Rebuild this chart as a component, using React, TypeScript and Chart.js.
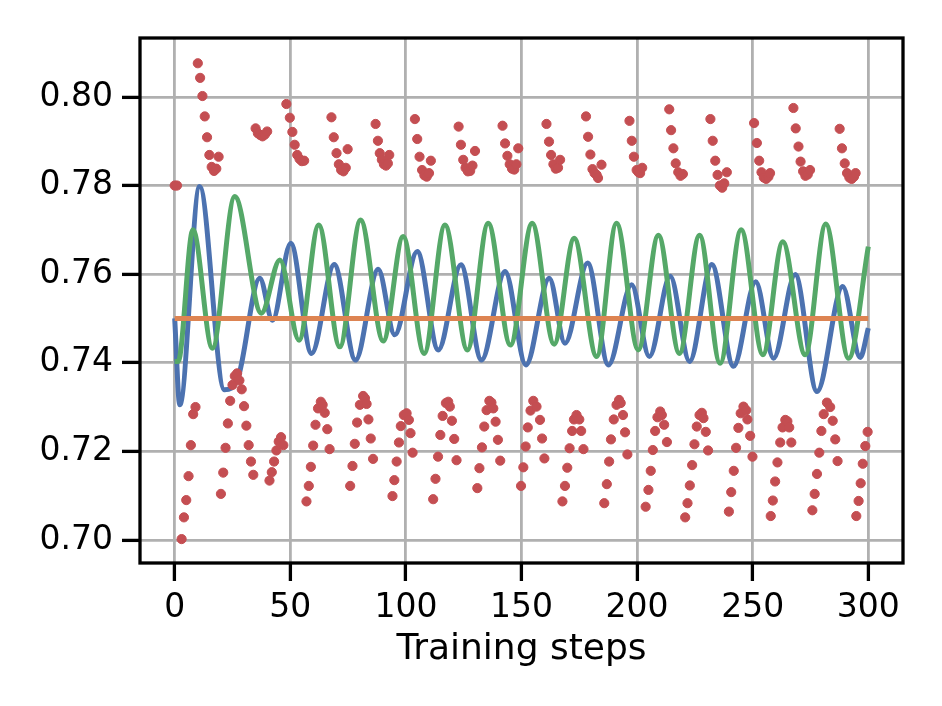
import React, { useEffect, useRef } from 'react';
import Chart from 'chart.js/auto';

// x ticks / y ticks of the axes
const X_TICKS = [0, 50, 100, 150, 200, 250, 300];
const Y_TICKS = [0.70, 0.72, 0.74, 0.76, 0.78, 0.80];

// red scatter: observed steps
const RED_X = [
  0, 1, 3, 4, 5, 6, 7, 8, 9,
  10, 11, 12, 13, 14, 15, 16, 17, 18, 19,
  20, 21, 22, 23, 24, 25, 26, 27, 28, 29, 30, 31, 32, 33, 34,
  35, 36, 37, 38, 39, 40,
  41, 42, 43, 44, 45, 46, 47,
  48.3, 49.8, 50.9, 51.9, 53, 54, 55, 56,
  57, 58, 58.9, 59.9, 60.9, 62, 63.2, 64, 64.9, 66, 67,
  67.8, 68.8, 70, 71, 72, 73, 74, 74.8,
  75.9, 76.9, 77.9, 78.9, 80.1, 81.5, 82.3, 83, 83.8, 84.8, 85.8,
  86.9, 87.9, 88.7, 89.6, 90.5, 91.4, 92.2, 92.8,
  94.2, 95, 96, 97, 97.8, 99.1, 100.3, 101.3, 102, 102.9,
  103.9, 104.9, 105.9, 107, 108, 109, 110, 110.8,
  111.8, 112.8, 113.9, 114.9, 115.9, 117.3, 118.3, 119, 119.9, 120.9, 121.9,
  122.8, 123.8, 124.8, 125.8, 126.8, 127.8, 128.8, 129.9,
  130.9, 131.8, 132.9, 133.9, 134.9, 136.1, 137, 137.8, 138.8, 139.8, 140.8,
  141.8, 142.9, 143.9, 144.9, 145.9, 146.9, 147.8, 148.6,
  149.8, 150.8, 151.8, 152.7, 153.9, 155.1, 156.5, 158, 158.9, 159.9,
  160.8, 161.9, 162.8, 163.8, 164.8, 165.8, 166.7,
  167.7, 168.8, 169.8, 170.8, 171.9, 172.7, 173.8, 175, 175.8, 176.8,
  177.9, 178.8, 179.8, 180.7, 181.6, 182.5, 183.1, 184.6,
  185.8, 186.9, 187.9, 188.7, 189.9, 191.1, 192.2, 192.9, 193.9, 194.8, 195.8,
  196.7, 197.7, 198.6, 199.8, 200.6, 201.3, 202.2,
  203.7, 204.9, 205.9, 206.8, 207.8, 208.8, 210, 210.7, 211.7, 212.9,
  213.9, 214.7, 215.7, 216.7, 217.8, 218.8, 219.8,
  220.8, 221.8, 222.8, 223.8, 224.8, 225.8, 227, 228, 228.7, 229.7, 230.7,
  231.7, 232.7, 233.8, 234.8, 235.8, 236.8, 237.7, 238.8,
  239.7, 240.7, 241.8, 242.8, 243.8, 244.8, 246, 247.2, 247.7, 248.9, 249.9,
  250.6, 251.8, 252.8, 253.8, 254.8, 255.8, 256.8, 257.5,
  257.8, 258.7, 259.7, 260.7, 261.9, 262.9, 264.1, 265, 265.8, 266.7,
  267.6, 268.6, 269.8, 270.7, 271.8, 272.8, 273.8, 274.8,
  275.8, 276.8, 277.8, 278.8, 279.7, 280.7, 282.1, 283.5, 284.6, 285.7, 286.7,
  287.6, 288.6, 289.8, 290.8, 291.8, 292.8, 293.8, 294.5,
  294.8, 295.8, 296.7, 297.6, 298.7, 299.7,
];
const RED_Y = [
  0.780, 0.780, 0.7002, 0.7051, 0.7090, 0.7144, 0.7214, 0.7284, 0.7300,
  0.8076, 0.8043, 0.8002, 0.7956, 0.7909, 0.7869, 0.7842, 0.7833, 0.7838, 0.7865,
  0.7104, 0.7152, 0.7208, 0.7263, 0.7314, 0.7350, 0.7370, 0.7376, 0.7360, 0.7340, 0.7302, 0.7258, 0.7214, 0.7177, 0.7147,
  0.7929, 0.7918, 0.7914, 0.7911, 0.7915, 0.7922,
  0.7134, 0.7153, 0.7177, 0.7202, 0.7222, 0.7232, 0.7214,
  0.7984, 0.7953, 0.7921, 0.7892, 0.7869, 0.7860, 0.7855, 0.7856,
  0.7087, 0.7122, 0.7165, 0.7213, 0.7260, 0.7297, 0.7312, 0.7305, 0.7287, 0.7250, 0.7205,
  0.7954, 0.7909, 0.7873, 0.7848, 0.7835, 0.7832, 0.7840, 0.7882,
  0.7122, 0.7167, 0.7217, 0.7265, 0.7305, 0.7325, 0.7320, 0.7307, 0.7272, 0.7229, 0.7183,
  0.7939, 0.7901, 0.7873, 0.7858, 0.7848, 0.7845, 0.7850, 0.7869,
  0.7099, 0.7135, 0.7177, 0.7220, 0.7257, 0.7282, 0.7286, 0.7271, 0.7241, 0.7197,
  0.7950, 0.7905, 0.7865, 0.7835, 0.7823, 0.7820, 0.7828, 0.7856,
  0.7092, 0.7138, 0.7188, 0.7237, 0.7280, 0.7309, 0.7312, 0.7301, 0.7269, 0.7228, 0.7180,
  0.7933, 0.7892, 0.7858, 0.7840, 0.7832, 0.7833, 0.7845, 0.7878,
  0.7117, 0.7162, 0.7209, 0.7256, 0.7293, 0.7314, 0.7310, 0.7297, 0.7267, 0.7226, 0.7179,
  0.7935, 0.7895, 0.7867, 0.7848, 0.7838, 0.7836, 0.7848, 0.7884,
  0.7122, 0.7164, 0.7211, 0.7254, 0.7292, 0.7314, 0.7301, 0.7271, 0.7229, 0.7184,
  0.7939, 0.7899, 0.7869, 0.7848, 0.7838, 0.7840, 0.7858,
  0.7087, 0.7122, 0.7163, 0.7207, 0.7246, 0.7272, 0.7282, 0.7272, 0.7246, 0.7205,
  0.7956, 0.7910, 0.7870, 0.7837, 0.7828, 0.7824, 0.7817, 0.7847,
  0.7083, 0.7126, 0.7177, 0.7227, 0.7272, 0.7305, 0.7316, 0.7309, 0.7282, 0.7243, 0.7193,
  0.7946, 0.7901, 0.7865, 0.7835, 0.7830, 0.7828, 0.7840,
  0.7075, 0.7113, 0.7156, 0.7203, 0.7246, 0.7277, 0.7290, 0.7282, 0.7260, 0.7221,
  0.7972, 0.7925, 0.7884, 0.7850, 0.7830, 0.7822, 0.7826,
  0.7051, 0.7083, 0.7123, 0.7169, 0.7216, 0.7256, 0.7282, 0.7287, 0.7275, 0.7244, 0.7202,
  0.7950, 0.7901, 0.7856, 0.7824, 0.7800, 0.7795, 0.7805, 0.7830,
  0.7064, 0.7108, 0.7156, 0.7208, 0.7253, 0.7286, 0.7301, 0.7293, 0.7272, 0.7235, 0.7188,
  0.7941, 0.7896, 0.7856, 0.7830, 0.7818, 0.7815, 0.7820, 0.7828,
  0.7054, 0.7089, 0.7132, 0.7175, 0.7220, 0.7254, 0.7271, 0.7268, 0.7254, 0.7220,
  0.7975, 0.7929, 0.7888, 0.7854, 0.7832, 0.7822, 0.7825, 0.7835,
  0.7067, 0.7104, 0.7149, 0.7197, 0.7246, 0.7284, 0.7310, 0.7300, 0.7269, 0.7227, 0.7178,
  0.7928, 0.7884, 0.7850, 0.7828, 0.7818, 0.7815, 0.7820, 0.7828,
  0.7054, 0.7088, 0.7128, 0.7172, 0.7212, 0.7244,
];

// blue curve, turning points
const BLUE_X = [0, 2.2, 10.8, 21.5, 27.5, 36.8, 42.3, 50.2, 59.2, 69, 78.2, 88, 95.2, 104.9, 114, 123.8, 132.7, 142.9, 151.9, 162, 168.8, 178.6, 187.6, 197.6, 205.3, 214.3, 222.7, 232.3, 241.7, 251.3, 259, 268.4, 277.8, 288.9, 296.5, 300];
const BLUE_Y = [0.750, 0.7305, 0.7798, 0.7339, 0.7368, 0.7591, 0.7496, 0.7670, 0.7421, 0.7622, 0.7406, 0.7611, 0.7463, 0.7651, 0.7429, 0.7621, 0.7406, 0.7606, 0.7395, 0.7591, 0.7444, 0.7625, 0.7395, 0.7576, 0.7414, 0.7595, 0.7403, 0.7622, 0.7392, 0.7583, 0.7410, 0.7599, 0.7335, 0.7572, 0.7412, 0.7478];

// green curve
const GREEN_X = [0, 1.5, 7.9, 16.3, 26, 37.5, 45.5, 53.8, 62.3, 71.4, 80.4, 90.2, 98.8, 107.9, 116.9, 126.6, 135.6, 145.2, 154.6, 164.1, 172.8, 182.5, 191.1, 200.5, 209.2, 218.3, 227, 235.9, 245, 254.4, 263, 272.7, 281.6, 291.5, 300];
const GREEN_Y = [0.7403, 0.7403, 0.7700, 0.7433, 0.7775, 0.7512, 0.7632, 0.7451, 0.7711, 0.7436, 0.7722, 0.7449, 0.7685, 0.7421, 0.7711, 0.7429, 0.7715, 0.7440, 0.7715, 0.7442, 0.7681, 0.7414, 0.7715, 0.7429, 0.7688, 0.7421, 0.7688, 0.7399, 0.7700, 0.7418, 0.7673, 0.7418, 0.7713, 0.7410, 0.7662];

// orange constant
const ORANGE_X = [0, 300];
const ORANGE_Y = [0.75, 0.75];

const FONT = 'DejaVu Sans';

const toPoints = (xs: number[], ys: number[]) => xs.map((x, i) => ({ x, y: ys[i] }));

const frame = {
  id: 'frame',
  afterDatasetsDraw(chart: any) {
    const { ctx, chartArea } = chart;
    ctx.save();
    ctx.strokeStyle = '#000';
    ctx.lineWidth = 3.3;
    ctx.strokeRect(chartArea.left, chartArea.top, chartArea.right - chartArea.left, chartArea.bottom - chartArea.top);
    ctx.restore();
  },
};

const App: React.FC = () => {
  const canvasRef = useRef<HTMLCanvasElement | null>(null);

  useEffect(() => {
    if (!canvasRef.current) return;
    const ctx = canvasRef.current.getContext('2d');
    if (!ctx) return;

    const chart = new Chart(ctx, {
      type: 'scatter',
      data: {
        datasets: [
          {
            data: toPoints(RED_X, RED_Y),
            backgroundColor: '#c44e52',
            borderColor: '#c44e52',
            borderWidth: 1,
            pointRadius: 4.6,
            order: 1,
          },
          {
            data: toPoints(ORANGE_X, ORANGE_Y),
            showLine: true,
            borderColor: '#dd8452',
            borderWidth: 5,
            pointRadius: 0,
            order: 2,
          },
          {
            data: toPoints(GREEN_X, GREEN_Y),
            showLine: true,
            borderColor: '#55a868',
            borderWidth: 5,
            pointRadius: 0,
            cubicInterpolationMode: 'monotone',
            order: 3,
          },
          {
            data: toPoints(BLUE_X, BLUE_Y),
            showLine: true,
            borderColor: '#4c72b0',
            borderWidth: 5,
            pointRadius: 0,
            cubicInterpolationMode: 'monotone',
            order: 4,
          },
        ] as any,
      },
      options: {
        responsive: false,
        animation: false,
        devicePixelRatio: 1,
        layout: { padding: { top: 38, right: 39, left: 0, bottom: 0 } },
        plugins: {
          legend: { display: false },
          tooltip: { enabled: false },
        },
        scales: {
          x: {
            type: 'linear',
            min: -15,
            max: 315,
            afterBuildTicks: (scale: any) => {
              scale.ticks = X_TICKS.map(v => ({ value: v }));
            },
            afterFit: (scale: any) => {
              scale.height = 143;
            },
            ticks: {
              color: '#000',
              font: { family: FONT, size: 33 },
              padding: 8,
              maxRotation: 0,
              callback: (v: any) => String(v),
            },
            grid: {
              color: '#b0b0b0',
              lineWidth: 2.8,
              tickColor: '#000',
              tickWidth: 3.3,
              tickLength: 18,
            },
            border: { display: false },
            title: {
              display: true,
              text: 'Training steps',
              color: '#000',
              font: { family: FONT, size: 36, lineHeight: 1.2 },
              padding: { top: 0, bottom: 35 },
            },
          },
          y: {
            type: 'linear',
            min: 0.6948,
            max: 0.8133,
            afterBuildTicks: (scale: any) => {
              scale.ticks = Y_TICKS.map(v => ({ value: v }));
            },
            afterFit: (scale: any) => {
              scale.width = 140;
            },
            ticks: {
              color: '#000',
              font: { family: FONT, size: 33 },
              padding: 9,
              callback: (v: any) => Number(v).toFixed(2),
            },
            grid: {
              color: '#b0b0b0',
              lineWidth: 2.8,
              tickColor: '#000',
              tickWidth: 3.3,
              tickLength: 18,
            },
            border: { display: false },
          },
        },
      },
      plugins: [frame],
    });

    return () => {
      chart.destroy();
    };
  }, []);

  return (
    <div style={{ position: 'absolute', left: 0, top: 0, width: 942, height: 706, background: '#fff' }}>
      <canvas ref={canvasRef} width={942} height={706}></canvas>
    </div>
  );
};

export default App;
